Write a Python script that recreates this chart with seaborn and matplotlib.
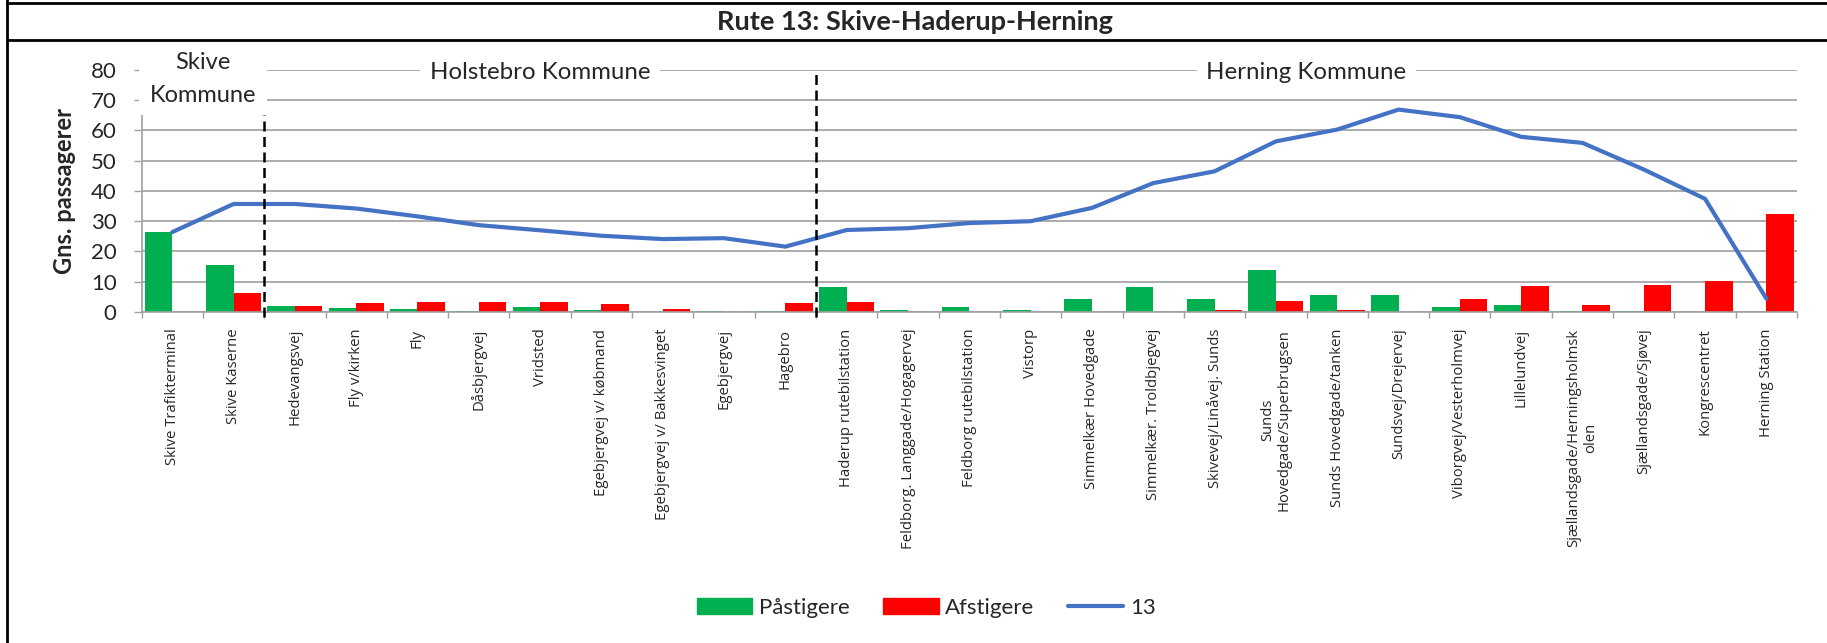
import numpy as np
import pandas as pd
import matplotlib.pyplot as plt
import seaborn as sns
from matplotlib.lines import Line2D
from matplotlib.patches import Patch, Rectangle

# data
stops = ['Skive Trafikterminal', 'Skive Kaserne', 'Hedevangsvej', 'Fly v/kirken', 'Fly',
         'Dåsbjergvej', 'Vridsted', 'Egebjergvej v/ købmand', 'Egebjergvej v/ Bakkesvinget',
         'Egebjergvej', 'Hagebro', 'Haderup rutebilstation', 'Feldborg. Langgade/Hogagervej',
         'Feldborg rutebilstation', 'Vistorp', 'Simmelkær Hovedgade', 'Simmelkær. Troldbjegvej',
         'Skivevej/Linåvej. Sunds', 'Sunds\nHovedgade/Superbrugsen', 'Sunds Hovedgade/tanken',
         'Sundsvej/Drejervej', 'Viborgvej/Vesterholmvej', 'Lillelundvej',
         'Sjællandsgade/Herningsholmsk\nolen', 'Sjællandsgade/Sjøvej', 'Kongrescentret',
         'Herning Station']
paastigere = [26.4, 15.4, 1.9, 1.4, 1.1, 0.4, 1.8, 0.7, 0.0, 0.3, 0.4, 8.4, 0.7, 1.8, 0.8,
              4.3, 8.2, 4.2, 13.9, 5.7, 5.6, 1.7, 2.2, 0.3, 0.4, 0.0, 0.0]
afstigere = [0.0, 6.3, 1.9, 3.0, 3.4, 3.3, 3.4, 2.7, 1.1, 0.0, 3.1, 3.3, 0.0, 0.0, 0.1,
             0.0, 0.0, 0.7, 3.6, 0.8, 0.0, 4.2, 8.6, 2.3, 8.9, 10.1, 32.5]
rute13 = [26.4, 35.7, 35.7, 34.2, 31.6, 28.7, 27.0, 25.2, 24.1, 24.4, 21.6, 27.1, 27.7, 29.4,
          30.0, 34.4, 42.6, 46.5, 56.4, 60.3, 66.9, 64.4, 57.9, 55.9, 47.1, 37.4, 4.4]
yticks = [0, 10, 20, 30, 40, 50, 60, 70, 80]

n = len(stops)
df = pd.DataFrame({'Stop': stops * 2,
                   'Antal': paastigere + afstigere,
                   'Type': ['Påstigere'] * n + ['Afstigere'] * n})

sns.set_theme(style='white')
plt.rcParams['font.family'] = ['Lato', 'DejaVu Sans']

fig = plt.figure(figsize=(18.27, 6.43), dpi=100)
ax = fig.add_axes([0.0775, 0.5148, 0.9061, 0.3764])
ax.set_axisbelow(True)

sns.barplot(data=df, x='Stop', y='Antal', hue='Type', palette=['#00B050', '#FF0000'],
            width=0.9, saturation=1, linewidth=0, errorbar=None, legend=False, ax=ax)
sns.lineplot(x=np.arange(n), y=rute13, color='#4472C4', lw=3, ax=ax, zorder=4)

ax.set_xlim(-0.5, n - 0.5)
ax.set_ylim(0, 80)
ax.set_yticks(yticks)
ax.yaxis.grid(True, color='#A6A6A6', lw=1.3)
ax.set_xlabel('')
ax.set_ylabel('Gns. passagerer', fontsize=17, fontweight='bold')
ax.yaxis.set_label_coords(-0.0395, 0.5)
for s in ['top', 'right']:
    ax.spines[s].set_visible(False)
for s in ['left', 'bottom']:
    ax.spines[s].set_color('#A0A0A0')
    ax.spines[s].set_linewidth(1.2)

# labels at centres, tick marks at category boundaries
ax.set_xticks(np.arange(n))
ax.set_xticklabels(stops, rotation=90, fontsize=10.7, family='Open Sans',
                   multialignment='center')
ax.set_xticks(np.arange(n + 1) - 0.5, minor=True)
ax.tick_params(axis='x', which='major', length=0, pad=12)
ax.tick_params(axis='x', which='minor', length=4, width=1, color='#A0A0A0', direction='out',
               bottom=True)
ax.tick_params(axis='y', length=6, width=1, color='#A0A0A0', direction='out', left=True,
               labelsize=16, pad=12)

# municipality borders
ax.plot([1.5, 1.5], [-1.6, 65], color='black', lw=1.8, ls=(0, (4, 2.2)), clip_on=False, zorder=5)
ax.plot([10.5, 10.5], [-1.6, 80], color='black', lw=1.8, ls=(0, (4, 2.2)), clip_on=False, zorder=5)

ax.add_patch(Rectangle((-0.54, 65), 2.09, 25, facecolor='white', edgecolor='none',
                       clip_on=False, zorder=6))
ax.text(0.5, 82.6, 'Skive', ha='center', va='center', fontsize=17, zorder=7)
ax.text(0.5, 71.7, 'Kommune', ha='center', va='center', fontsize=17, zorder=7)
box = dict(facecolor='white', edgecolor='none', boxstyle='square,pad=0.4')
ax.text(6.0, 79.2, 'Holstebro Kommune', ha='center', va='center', fontsize=17.3, bbox=box, zorder=7)
ax.text(18.5, 79.2, 'Herning Kommune', ha='center', va='center', fontsize=17.3, bbox=box, zorder=7)

# frame and title band
for line in [((6.5 / 1827, 6.5 / 1827), (0, 1)),
             ((6.5 / 1827, 1), (1 - 3 / 643, 1 - 3 / 643)),
             ((6.5 / 1827, 1), (1 - 40 / 643, 1 - 40 / 643))]:
    fig.add_artist(Line2D(line[0], line[1], color='black', lw=2, transform=fig.transFigure))
fig.text(0.501, 1 - 21.5 / 643, 'Rute 13: Skive-Haderup-Herning', ha='center', va='center',
         fontsize=19.5, fontweight='bold')

handles = [Patch(color='#00B050', label='Påstigere'),
           Patch(color='#FF0000', label='Afstigere'),
           Line2D([], [], color='#4472C4', lw=3, label='13')]
fig.legend(handles=handles, loc='center', bbox_to_anchor=(0.507, 0.0544), ncol=3,
           frameon=False, fontsize=16, handlelength=2.5, handleheight=0.7,
           handletextpad=0.3, columnspacing=1.5)

fig.savefig('out.png', dpi=100)
